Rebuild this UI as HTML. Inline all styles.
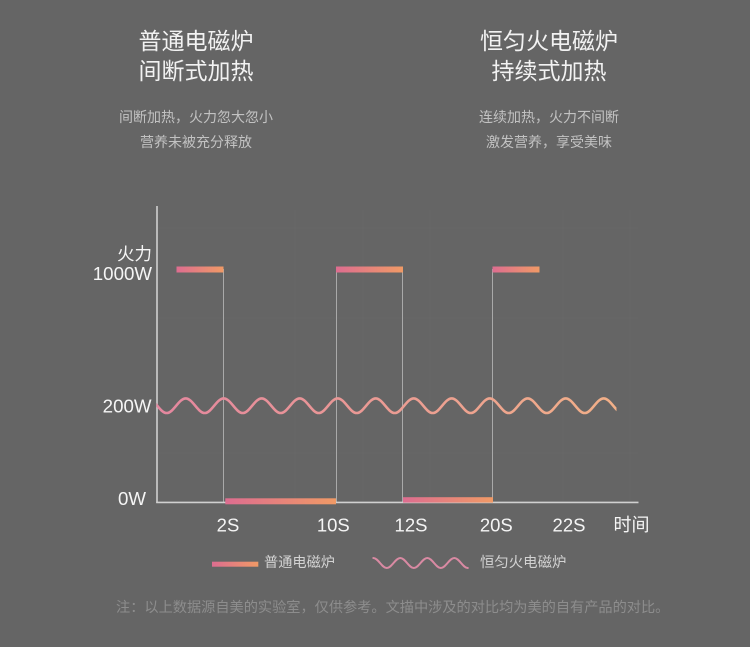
<!DOCTYPE html>
<html>
<head>
<meta charset="utf-8">
<style>
  html,body{margin:0;padding:0;background:#656565;}
  body{width:750px;height:647px;overflow:hidden;}
  svg{display:block;}
  .cjk{font-family:"Liberation Sans","Noto Sans CJK SC","WenQuanYi Zen Hei",sans-serif;}
  .lat{font-family:"Liberation Sans","Noto Sans CJK SC",sans-serif;}
</style>
</head>
<body>
<svg width="750" height="647" viewBox="0 0 750 647" xmlns="http://www.w3.org/2000/svg">
  <defs>
    <linearGradient id="barG" x1="0" y1="0" x2="1" y2="0">
      <stop offset="0" stop-color="#dd6d90"/>
      <stop offset="1" stop-color="#f09a66"/>
    </linearGradient>
    <linearGradient id="waveG" gradientUnits="userSpaceOnUse" x1="157" y1="0" x2="616" y2="0">
      <stop offset="0" stop-color="#e4879f"/>
      <stop offset="1" stop-color="#f2b088"/>
    </linearGradient>
    <clipPath id="waveClip">
      <rect x="156.5" y="380" width="460" height="50"/>
    </clipPath>
  </defs>

  <rect x="0" y="0" width="750" height="647" fill="#656565"/>

  <!-- Titles -->
  <g class="cjk" fill="#f2f2f2" font-size="23" text-anchor="middle">
    <text x="196" y="49">普通电磁炉</text>
    <text x="196" y="79">间断式加热</text>
    <text x="549" y="49">恒匀火电磁炉</text>
    <text x="549" y="79">持续式加热</text>
  </g>
  <g class="cjk" fill="#c2c2c2" font-size="14" text-anchor="middle">
    <text x="196" y="122">间断加热，火力忽大忽小</text>
    <text x="196" y="147">营养未被充分释放</text>
    <text x="549" y="122">连续加热，火力不间断</text>
    <text x="549" y="147">激发营养，享受美味</text>
  </g>

  <!-- faint grid -->
  <g stroke="#686868" stroke-width="1">
    <line x1="158" y1="228" x2="638" y2="228"/>
    <line x1="158" y1="318" x2="638" y2="318"/>
    <line x1="158" y1="453" x2="638" y2="453"/>
    <line x1="295" y1="210" x2="295" y2="501"/>
    <line x1="363" y1="210" x2="363" y2="501"/>
    <line x1="430" y1="210" x2="430" y2="501"/>
    <line x1="563" y1="210" x2="563" y2="501"/>
    <line x1="630" y1="210" x2="630" y2="501"/>
  </g>

  <!-- vertical step lines -->
  <g stroke="#a9a9a9" stroke-width="1">
    <line x1="223.5" y1="269" x2="223.5" y2="502"/>
    <line x1="336.5" y1="269" x2="336.5" y2="502"/>
    <line x1="402.5" y1="269" x2="402.5" y2="502"/>
    <line x1="492.5" y1="269" x2="492.5" y2="502"/>
  </g>

  <!-- axes -->
  <g stroke="#d0d0d0" stroke-width="1.6" fill="none">
    <line x1="157" y1="206" x2="157" y2="503"/>
    <line x1="156.2" y1="502.4" x2="638.5" y2="502.4"/>
  </g>

  <!-- top bars -->
  <rect x="176.5" y="266.5" width="47" height="6" fill="url(#barG)"/>
  <rect x="336" y="266.5" width="67" height="6" fill="url(#barG)"/>
  <rect x="492.5" y="266.5" width="47" height="6" fill="url(#barG)"/>
  <!-- bottom bars -->
  <rect x="225.3" y="498.3" width="110.7" height="6" fill="url(#barG)"/>
  <rect x="403" y="497.2" width="90" height="5.4" fill="url(#barG)"/>

  <!-- wave -->
  <path clip-path="url(#waveClip)" fill="none" stroke="url(#waveG)" stroke-width="2.6" stroke-linecap="round"
    d="M147.7 398.4 C154.62 398.4 159.78 413 166.7 413
       S178.78 398.4 185.7 398.4 S197.78 413 204.7 413
       S216.78 398.4 223.7 398.4 S235.78 413 242.7 413
       S254.78 398.4 261.7 398.4 S273.78 413 280.7 413
       S292.78 398.4 299.7 398.4 S311.78 413 318.7 413
       S330.78 398.4 337.7 398.4 S349.78 413 356.7 413
       S368.78 398.4 375.7 398.4 S387.78 413 394.7 413
       S406.78 398.4 413.7 398.4 S425.78 413 432.7 413
       S444.78 398.4 451.7 398.4 S463.78 413 470.7 413
       S482.78 398.4 489.7 398.4 S501.78 413 508.7 413
       S520.78 398.4 527.7 398.4 S539.78 413 546.7 413
       S558.78 398.4 565.7 398.4 S577.78 413 584.7 413
       S596.78 398.4 603.7 398.4 S615.78 413 622.7 413"/>

  <!-- Y labels -->
  <g class="lat" fill="#f5f5f5" font-size="18.7" text-anchor="end">
    <text x="152" y="280">1000W</text>
    <text x="151.5" y="412.3">200W</text>
    <text x="146" y="505">0W</text>
  </g>
  <text class="cjk" x="152" y="260" fill="#f5f5f5" font-size="17.5" text-anchor="end">火力</text>

  <!-- X labels -->
  <g class="lat" fill="#f5f5f5" font-size="18.5" text-anchor="middle">
    <text x="228" y="531.5">2S</text>
    <text x="333.3" y="531.5">10S</text>
    <text x="411" y="531.5">12S</text>
    <text x="496.3" y="531.5">20S</text>
    <text x="569" y="531.5">22S</text>
  </g>
  <text class="cjk" x="631.5" y="531" fill="#f5f5f5" font-size="18" text-anchor="middle">时间</text>

  <!-- legend -->
  <rect x="212" y="561.7" width="46.3" height="5" fill="url(#barG)"/>
  <text class="cjk" x="264" y="567" fill="#d2d2d2" font-size="14.2">普通电磁炉</text>
  <path fill="none" stroke="#d98aa3" stroke-width="2" stroke-linecap="round"
    d="M373.3 558 C378.22 558 381.88 568 386.8 568
       S395.38 558 400.3 558 S408.88 568 413.8 568
       S422.38 558 427.3 558 S435.88 568 440.8 568
       S449.38 558 454.3 558 S462.88 568 467.8 568"/>
  <text class="cjk" x="480" y="567" fill="#d2d2d2" font-size="14.4">恒匀火电磁炉</text>

  <!-- footnote -->
  <text class="cjk" x="116" y="612" fill="#8d8d8d" font-size="14.2">注：以上数据源自美的实验室，仅供参考。文描中涉及的对比均为美的自有产品的对比。</text>
</svg>
</body>
</html>
